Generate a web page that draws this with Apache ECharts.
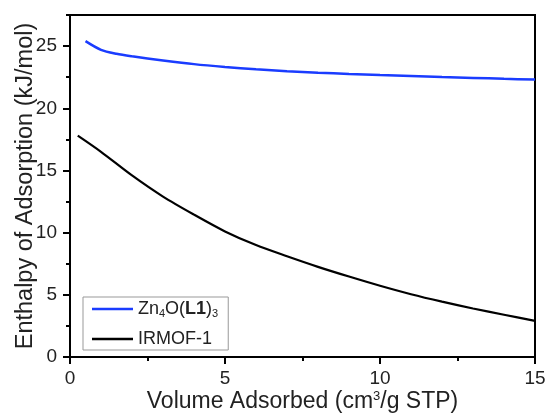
<!DOCTYPE html>
<html><head><meta charset="utf-8">
<script src="https://cdn.jsdelivr.net/npm/echarts@6/dist/echarts.min.js"></script>
<style>html,body{margin:0;padding:0;background:#fff}#c{width:548px;height:414px}</style>
</head><body><div id="c"></div>
<script>
const seriesNames = ['Zn4O(L1)3', 'IRMOF-1'];
const xBlue = [0.5, 1.0, 1.5, 2, 3, 4, 5, 6, 7, 8, 9, 10, 11, 12, 13, 14, 15];
const yBlue = [25.4, 24.7, 24.38, 24.18, 23.85, 23.55, 23.32, 23.13, 22.98, 22.86, 22.76, 22.67, 22.59, 22.51, 22.44, 22.37, 22.31];
const xBlack = [0.25, 1, 2, 3, 4, 5, 6, 7, 8, 9, 10, 11, 12, 13, 14, 15];
const yBlack = [17.8, 16.5, 14.6, 12.9, 11.45, 10.1, 9.0, 8.1, 7.25, 6.47, 5.73, 5.05, 4.45, 3.9, 3.4, 2.9];
const xMajor = [0, 5, 10, 15];
const xMinor = [2.5, 7.5, 12.5];
const yMajor = [0, 5, 10, 15, 20, 25];
const yMinor = [2.5, 7.5, 12.5, 17.5, 22.5, 27.5];

const FONT = 'Liberation Sans, Arial, sans-serif';
const pairs = (xs, ys) => xs.map((x, i) => [x, ys[i]]);
const chart = echarts.init(document.getElementById('c'));
const axisCommon = {
  min: 0, axisLine: {show: true, onZero: false, lineStyle: {color: '#000', width: 2}},
  splitLine: {show: false}
};
chart.setOption({
  animation: false,
  grid: {left: 70, right: 13, top: 15, bottom: 57, show: true, borderColor: '#000', borderWidth: 2,
         containLabel: false, outerBoundsMode: 'none'},
  legend: {
    orient: 'vertical', left: 83, top: 297, icon: 'rect', itemWidth: 41, itemHeight: 2.5,
    padding: [3, 10, 2, 9], itemGap: 11, borderColor: '#999', borderWidth: 1,
    data: seriesNames,
    formatter: n => n === 'Zn4O(L1)3' ? '{n|Zn}{s|4}{n|O(}{b|L1}{n|)}{s|3}' : '{n|' + n + '}',
    textStyle: {fontFamily: FONT, color: '#222', rich: {
      n: {fontSize: 18, fontFamily: FONT, color: '#222'},
      b: {fontSize: 18, fontFamily: FONT, fontWeight: 'bold', color: '#222'},
      s: {fontSize: 11, fontFamily: FONT, color: '#222', verticalAlign: 'bottom', padding: [9, 0, 0, 0]}
    }}
  },
  xAxis: [
    Object.assign({}, axisCommon, {
      type: 'value', max: 15, interval: 5,
      name: '{n|Volume Adsorbed (cm}{s|3}{n|/g STP)}', nameLocation: 'middle', nameGap: 33,
      nameMoveOverlap: false,
      nameTextStyle: {rich: {
        n: {fontSize: 23, fontFamily: FONT, color: '#222'},
        s: {fontSize: 13, fontFamily: FONT, color: '#222', verticalAlign: 'top', padding: [0, 0, 10, 0]}
      }},
      axisTick: {show: true, inside: false, length: 7, lineStyle: {color: '#000', width: 2}, customValues: xMajor},
      axisLabel: {fontSize: 19, fontFamily: FONT, color: '#222', margin: 12, customValues: xMajor}
    }),
    Object.assign({}, axisCommon, {
      type: 'value', max: 15, interval: 5, position: 'bottom',
      axisLine: {show: false},
      axisTick: {show: true, length: 4, lineStyle: {color: '#000', width: 2}, customValues: xMinor},
      axisLabel: {show: false}
    })
  ],
  yAxis: [
    Object.assign({}, axisCommon, {
      type: 'value', max: 27.5, interval: 5,
      name: 'Enthalpy of Adsorption (kJ/mol)', nameLocation: 'middle', nameGap: 32,
      nameMoveOverlap: false,
      nameTextStyle: {fontSize: 23.5, fontFamily: FONT, color: '#222'},
      axisTick: {show: true, inside: false, length: 7, lineStyle: {color: '#000', width: 2}, customValues: yMajor},
      axisLabel: {fontSize: 19, fontFamily: FONT, color: '#222', margin: 13, customValues: yMajor}
    }),
    Object.assign({}, axisCommon, {
      type: 'value', max: 27.5, interval: 5, position: 'left',
      axisLine: {show: false},
      axisTick: {show: true, length: 4, lineStyle: {color: '#000', width: 2}, customValues: yMinor},
      axisLabel: {show: false}
    })
  ],
  series: [
    {name: seriesNames[0], type: 'line', smooth: 0.3, showSymbol: false, symbol: 'none',
     data: pairs(xBlue, yBlue), itemStyle: {color: '#1a3cff'}, lineStyle: {color: '#1a3cff', width: 2.5}},
    {name: seriesNames[1], type: 'line', smooth: 0.3, showSymbol: false, symbol: 'none',
     data: pairs(xBlack, yBlack), itemStyle: {color: '#000'}, lineStyle: {color: '#000', width: 2.2}}
  ]
});
</script></body></html>
